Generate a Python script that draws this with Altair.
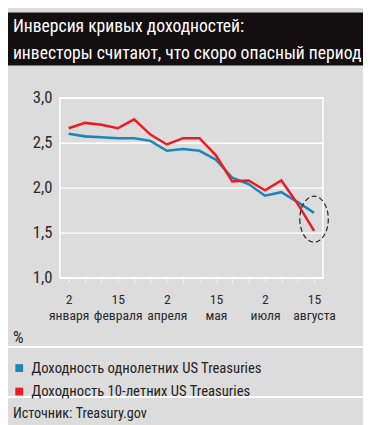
import altair as alt
import pandas as pd

dates = ["2 января", "15 января", "2 февраля", "15 февраля", "2 марта", "15 марта",
         "2 апреля", "15 апреля", "2 мая", "15 мая", "2 июня", "15 июня",
         "2 июля", "15 июля", "2 августа", "15 августа"]
labeled = ["2 января", "15 февраля", "2 апреля", "15 мая", "2 июля", "15 августа"]
one_year = [2.60, 2.57, 2.56, 2.55, 2.55, 2.52, 2.41, 2.43, 2.41, 2.31, 2.11, 2.04, 1.91, 1.95, 1.84, 1.72]
ten_year = [2.66, 2.72, 2.70, 2.66, 2.76, 2.59, 2.48, 2.55, 2.55, 2.36, 2.07, 2.08, 1.97, 2.08, 1.82, 1.52]
series = ["Доходность однолетних US Treasuries", "Доходность 10-летних US Treasuries"]
colors = ["#1a87b8", "#ec1c24"]
y_ticks = [1.0, 1.5, 2.0, 2.5, 3.0]
title_lines = ["Инверсия кривых доходностей:", "инвесторы считают, что скоро опасный период"]
source = "Источник: Treasury.gov"
unit = "%"
ellipse_at = {"date": "15 августа", "value": 1.65}

FONT = "Roboto Condensed, Roboto, sans-serif"
BG = "#dcdcdc"

rows = []
for d, a, b in zip(dates, one_year, ten_year):
    rows.append({"date": d, "value": a, "series": series[0]})
    rows.append({"date": d, "value": b, "series": series[1]})
df = pd.DataFrame(rows)

W, H = 269, 184
PL, PT = 53, 87
TOTW, TOTH = 363, 417

lab_arr = "[" + ",".join("'" + s + "'" for s in labeled) + "]"

x_enc = alt.X("date:O", sort=dates,
              scale=alt.Scale(type="point", padding=0.54),
              axis=alt.Axis(title=None, labelAngle=0,
                            labelExpr=f"indexof({lab_arr}, datum.value) >= 0 ? split(datum.value, ' ') : ''",
                            labelFont=FONT, labelFontSize=14, labelColor="#2a2a2a",
                            labelLineHeight=16.5, labelPadding=10,
                            ticks=True, tickColor="#f4f4f4", tickSize=5, tickWidth=1,
                            domain=True, domainColor="white", domainWidth=1.5,
                            grid=False))
y_enc = alt.Y("value:Q",
              scale=alt.Scale(domain=[1.0, 3.0], nice=False, zero=False),
              axis=alt.Axis(title=None, values=y_ticks,
                            labelExpr="replace(format(datum.value, '.1f'), '.', ',')",
                            labelFont=FONT, labelFontSize=17, labelColor="#2a2a2a",
                            labelPadding=8, ticks=False, domain=False,
                            grid=True, gridColor="white", gridWidth=1.5))

lines = alt.Chart(df).mark_line(strokeWidth=2.6).encode(
    x=x_enc, y=y_enc,
    color=alt.Color("series:N", sort=series,
                    scale=alt.Scale(domain=series, range=colors),
                    legend=alt.Legend(title=None, orient="none", legendX=-49, legendY=269,
                                      symbolType="square", symbolSize=16, symbolStrokeWidth=4,
                                      labelFont=FONT, labelFontSize=15, labelColor="#222",
                                      labelLimit=400, labelOffset=5, rowPadding=3)),
)

ell = alt.Chart(pd.DataFrame([ellipse_at])).mark_point(
    shape="M -0.62 0 A 0.62 1 0 1 0 0.62 0 A 0.62 1 0 1 0 -0.62 0 Z",
    size=2209, filled=False, stroke="#222", strokeWidth=1.2, strokeDash=[5, 3], opacity=1,
).encode(x=alt.X("date:O", sort=dates), y="value:Q")

band = alt.Chart(pd.DataFrame({"a": [0]})).mark_rect(color="#130e0f").encode(
    x=alt.value(-PL), x2=alt.value(TOTW - PL), y=alt.value(-PT), y2=alt.value(-33))

t1 = alt.Chart(pd.DataFrame({"t": [title_lines[0]]})).mark_text(
    align="left", baseline="alphabetic", font=FONT, fontSize=18, color="white").encode(
    text="t:N", x=alt.value(-48), y=alt.value(-67))
t2 = alt.Chart(pd.DataFrame({"t": [title_lines[1]]})).mark_text(
    align="left", baseline="alphabetic", font=FONT, fontSize=18, color="white").encode(
    text="t:N", x=alt.value(-48), y=alt.value(-40))

pct = alt.Chart(pd.DataFrame({"t": [unit]})).mark_text(
    align="left", baseline="middle", font=FONT, fontSize=17, color="#222").encode(
    text="t:N", x=alt.value(-48), y=alt.value(246))

sep1 = alt.Chart(pd.DataFrame({"a": [0]})).mark_rule(color="white", strokeWidth=2).encode(
    x=alt.value(-PL), x2=alt.value(TOTW - PL), y=alt.value(255))
sep2 = alt.Chart(pd.DataFrame({"a": [0]})).mark_rule(color="white", strokeWidth=2).encode(
    x=alt.value(-PL), x2=alt.value(TOTW - PL), y=alt.value(306))

src = alt.Chart(pd.DataFrame({"t": [source]})).mark_text(
    align="left", baseline="middle", font=FONT, fontSize=14.5, color="#222").encode(
    text="t:N", x=alt.value(-48), y=alt.value(324))

chart = alt.layer(band, t1, t2, sep1, sep2, pct, src, lines, ell).properties(
    width=W, height=H,
    autosize=alt.AutoSizeParams(type="none"),
    padding={"left": PL, "top": PT, "right": TOTW - PL - W, "bottom": TOTH - PT - H},
    background=BG,
).configure_view(stroke="white", strokeWidth=1.5, fill=BG)

chart.save("out.html", embed_options={"renderer": "svg", "actions": False})
